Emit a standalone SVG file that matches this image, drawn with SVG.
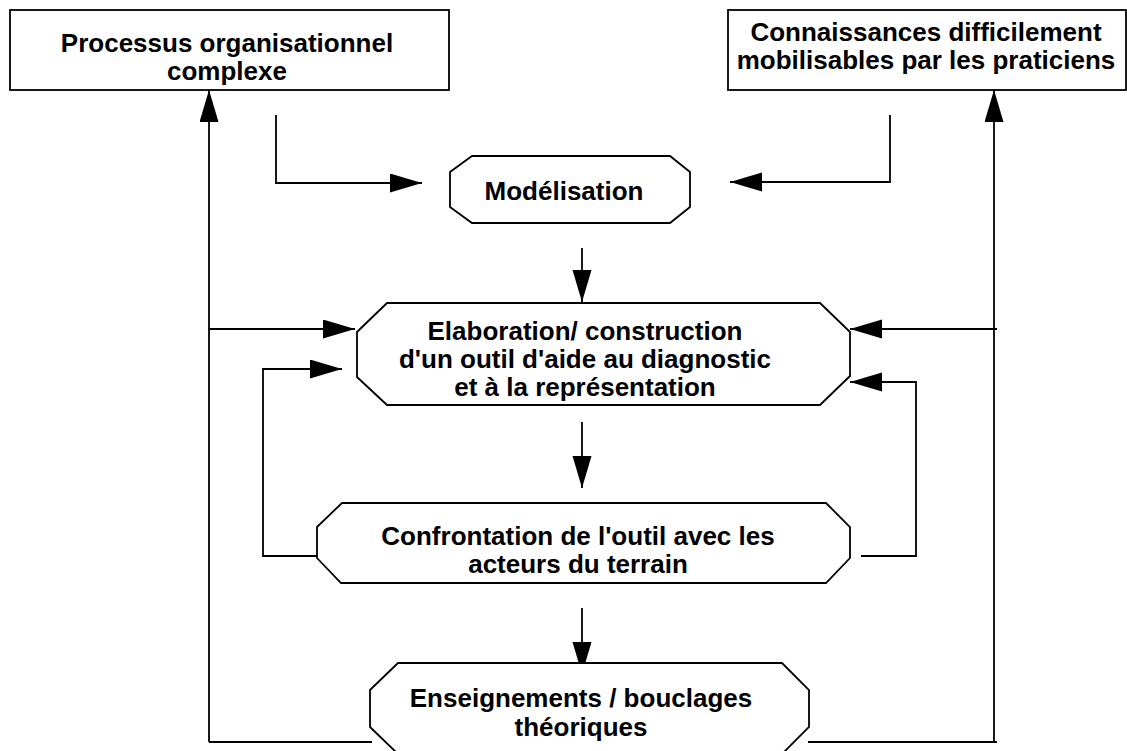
<svg xmlns="http://www.w3.org/2000/svg" width="1127" height="751" viewBox="0 0 1127 751">
<style>
.box{fill:#fff;stroke:#000;stroke-width:1.8}
.ln{fill:none;stroke:#000;stroke-width:1.8}
.t{font-family:"Liberation Sans",Arial,sans-serif;font-weight:bold;font-size:26px;text-anchor:middle;fill:#000}
</style>
<defs>
<marker id="ah" markerUnits="userSpaceOnUse" markerWidth="33" markerHeight="20" refX="32" refY="9.5" orient="auto">
<path d="M0,0 L32,9.5 L0,19 z" fill="#000"/>
</marker>
</defs>
<rect width="1127" height="751" fill="#fff"/>
<g id="connectors">
<path class="ln" d="M209,742 L209,90" marker-end="url(#ah)"/>
<path class="ln" d="M209,742 L372,742"/>
<path class="ln" d="M994,742 L994,90" marker-end="url(#ah)"/>
<path class="ln" d="M808,742 L997,742"/>
<path class="ln" d="M276,115 L276,183 L422,183" marker-end="url(#ah)"/>
<path class="ln" d="M890,115 L890,182 L730,182" marker-end="url(#ah)"/>
<path class="ln" d="M582,248 L582,302" marker-end="url(#ah)"/>
<path class="ln" d="M209,329 L355,329" marker-end="url(#ah)"/>
<path class="ln" d="M997,329 L850,329" marker-end="url(#ah)"/>
<path class="ln" d="M582,422 L582,488" marker-end="url(#ah)"/>
<path class="ln" d="M317,556 L263,556 L263,369 L342,369" marker-end="url(#ah)"/>
<path class="ln" d="M861,556 L916,556 L916,382 L850,382" marker-end="url(#ah)"/>
<path class="ln" d="M582,608 L582,674" marker-end="url(#ah)"/>
</g>
<g id="processus">
<rect class="box" x="10" y="10" width="439" height="80"/>
<text class="t" x="227" y="52">Processus organisationnel</text>
<text class="t" x="227" y="80">complexe</text>
</g>
<g id="connaissances">
<rect class="box" x="728" y="10" width="398" height="80"/>
<text class="t" x="926" y="41">Connaissances difficilement</text>
<text class="t" x="926" y="69">mobilisables par les praticiens</text>
</g>
<g id="modelisation">
<polygon class="box" points="472,156 670,156 690,172 690,207 670,223 472,223 450,207 450,172"/>
<text class="t" x="564" y="200">Modélisation</text>
</g>
<g id="elaboration">
<polygon class="box" points="387,303 820,303 850,332 850,376 820,405 387,405 357,377 357,332"/>
<text class="t" x="585" y="340">Elaboration/ construction</text>
<text class="t" x="585" y="368">d'un outil d'aide au diagnostic</text>
<text class="t" x="585" y="396">et à la représentation</text>
</g>
<g id="confrontation">
<polygon class="box" points="342,503 826,503 850,527 850,558 826,583 341,583 317,558 317,527"/>
<text class="t" x="578" y="545">Confrontation de l'outil avec les</text>
<text class="t" x="578" y="573">acteurs du terrain</text>
</g>
<g id="enseignements">
<polygon class="box" points="398,663 782,663 809,690 809,727 782,754 398,754 370,727 370,690"/>
<text class="t" x="581" y="707">Enseignements / bouclages</text>
<text class="t" x="581" y="736">théoriques</text>
</g>
</svg>
